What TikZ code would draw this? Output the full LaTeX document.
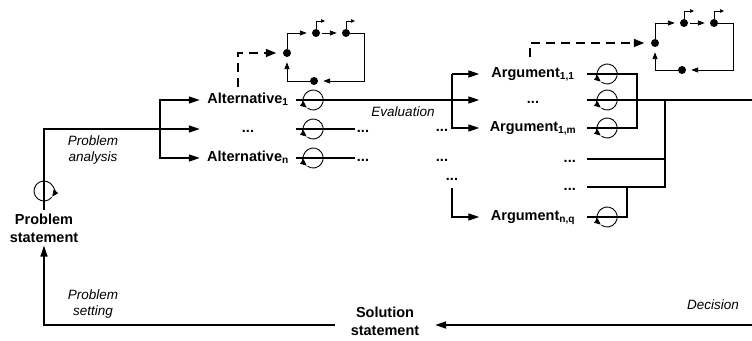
\documentclass[tikz,border=0pt]{standalone}
\usepackage{fontspec}
\setmainfont{Liberation Sans}
\usetikzlibrary{arrows.meta}

\begin{document}
\begin{tikzpicture}[x=1pt, y=1pt,
  bold/.style={font=\fontsize{14.5}{18}\selectfont\bfseries},
  item/.style={bold, text height=10.5pt, text depth=3pt, inner sep=0pt},
  alt/.style={item, minimum width=96pt},
  arg/.style={item, minimum width=107pt},
  etc/.style={item, inner xsep=2pt},
  state/.style={bold, align=center, inner sep=3pt},
  note/.style={font=\fontsize{13.5}{16}\selectfont\itshape, align=center},
  main/.style={line width=1.3pt},
  arr/.style={main, -{Triangle[length=11pt,width=7pt]}},
  tarr/.style={line width=0.9pt, -{Triangle[length=7pt,width=5pt]}, shorten >=5pt},
  tiny arr/.style={line width=0.7pt, -{Triangle[length=4pt,width=3.5pt]}},
  jump/.style={line width=2.8pt, dash pattern=on 9pt off 6pt,
    -{Triangle[length=11pt,width=7.5pt]}, shorten >=6pt},
  loopc/.style={line width=0.9pt, -{Triangle[length=6.5pt,width=5.5pt]}},
  dot/.style={circle, fill, inner sep=0pt, minimum size=8pt},
]
\useasboundingbox (0,0) rectangle (752,340);

% problem and solution
\node[state] (ps) at (44,112) {Problem\\statement};
\node[state, minimum width=100pt] (ss) at (385,19) {Solution\\statement};
\node[note] (lanalysis) at (93,190) {Problem\\analysis};
\node[note] (lsetting) at (93,36) {Problem\\setting};
\node[note] (leval) at (403,228) {Evaluation};
\node[note] (ldecision) at (713,35) {Decision};

% alternatives
\node[alt] (alt1) at (248,240) {Alternative\textsubscript{1}};
\node[alt] (altd) at (248,211) {...};
\node[alt] (altn) at (248,182) {Alternative\textsubscript{n}};
\node[etc] (altd2) at (363,211) {...};
\node[etc] (altn2) at (363,182) {...};
\node[etc] (mid1) at (442,212) {...};
\node[etc] (mid2) at (442,182) {...};
\node[etc] (mid3) at (452,163) {...};

% arguments
\node[arg] (arg11) at (533,266) {Argument\textsubscript{1,1}};
\node[arg] (argd) at (533,240) {...};
\node[arg] (arg1m) at (533,212) {Argument\textsubscript{1,m}};
\node[arg] (argnq) at (533,123) {Argument\textsubscript{n,q}};
\node[etc, anchor=east, inner xsep=11pt] (argd2) at (587,181) {...};
\node[etc, anchor=east, inner xsep=11pt] (argd3) at (587,153) {...};

\coordinate (j0) at (160,211);
\coordinate (ba) at (452,266);
\coordinate (j1) at (637,240);
\coordinate (j2) at (665,240);
\coordinate (j3) at (627,153);
\coordinate (out1) at (752,240);
\coordinate (out2) at (752,15);

% main flow
\draw[arr] (ps.north) |- (altd);
\draw[arr] (j0) |- (alt1);
\draw[arr] (j0) |- (altn);
\draw[arr] (alt1) -- (argd);
\draw[main] (altd) -- (altd2);
\draw[main] (altn) -- (altn2);
\draw[arr] (ba) -- (arg11);
\draw[arr] (ba) |- (arg1m);
\draw[arr, shorten <=4pt] (mid3) |- (argnq);
\draw[main] (arg11) -| (j1) |- (arg1m);
\draw[main] (argd) -- (out1);
\draw[main] (argd2) -| (j2);
\draw[main] (argd3) -| (j2);
\draw[main] (argnq) -| (j3);
\draw[arr, line width=1.8pt] (out2) -- (out2 -| ss.east);
\draw[arr] (out2 -| ss.west) -| (ps);

% loops
\foreach \n in {alt1,altd,altn}
  \draw[loopc] ([xshift=17pt]\n.east) ++(-125:10) arc[start angle=-125, end angle=230, radius=10];
\foreach \n in {arg11,argd,arg1m,argnq}
  \draw[loopc] ([xshift=20.5pt]\n.east) ++(-125:10) arc[start angle=-125, end angle=230, radius=10];
\draw[loopc] (44,149) ++(320:10) arc[start angle=320, end angle=-35, radius=10];

% small state graph, left
\node[dot] (la) at (287,287) {};
\node[dot] (lb) at (316,307) {};
\node[dot] (lc) at (346,307) {};
\node[dot] (ld) at (314,259) {};
\draw[jump] ([xshift=-10pt,yshift=6.5pt]alt1.north) |- (la);
\draw[tarr] (la) |- (lb);
\draw[tarr, shorten <=2pt] (lb) -- (lc);
\draw[tarr] (lc) -- ++(18,0) |- (ld);
\draw[tarr] (ld) -| (la);
\draw[tiny arr] (lb) |- ++(9,12);
\draw[tiny arr] (lc) |- ++(9,12);

% small state graph, right
\node[dot] (ra) at (655,297) {};
\node[dot] (rb) at (684,317) {};
\node[dot] (rc) at (714,317) {};
\node[dot] (rd) at (682,270) {};
\draw[jump] ([xshift=-3pt,yshift=10.5pt]arg11.north) |- (ra);
\draw[tarr] (ra) |- (rb);
\draw[tarr, shorten <=2pt] (rb) -- (rc);
\draw[tarr] (rc) -- ++(19,0) |- (rd);
\draw[tarr] (rd) -| (ra);
\draw[tiny arr] (rb) |- ++(10,12);
\draw[tiny arr] (rc) |- ++(10,12);
\end{tikzpicture}
\end{document}
